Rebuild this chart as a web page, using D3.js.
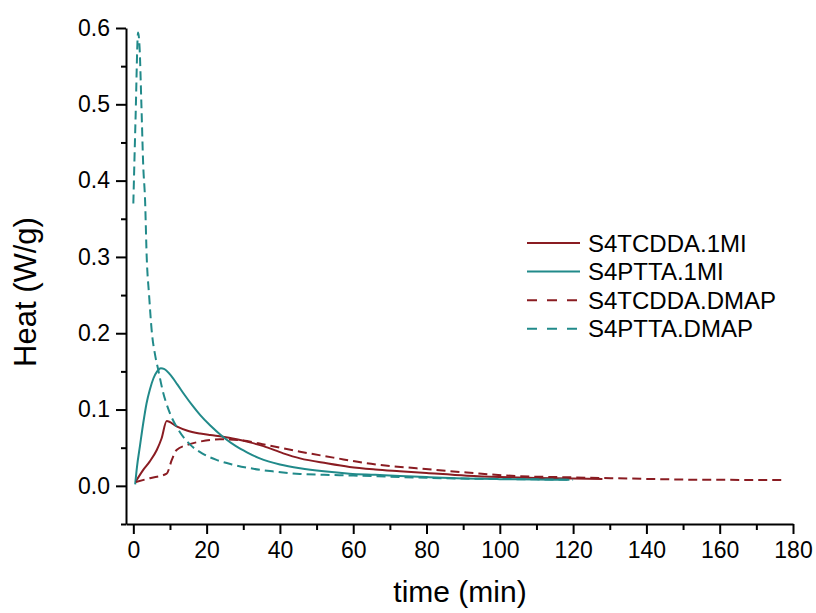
<!DOCTYPE html>
<html>
<head>
<meta charset="utf-8">
<script src="https://cdn.jsdelivr.net/npm/d3@7"></script>
<style>
  body { margin: 0; background: #fff; }
  svg { display: block; font-family: "Liberation Sans", Arial, sans-serif; }
</style>
</head>
<body>
<svg id="chart"></svg>
<script>
// series: [time (min), heat (W/g)]
const tcdda1mi = [[0.7,0.006],[2.7,0.021],[4.5,0.032],[6.4,0.047],[7.7,0.062],[9.1,0.085],[11.8,0.078],[14.6,0.0725],[18.2,0.0685],[21,0.0665],[24.5,0.0644],[28.2,0.061],[31.8,0.057],[35.5,0.052],[40.9,0.0426],[45.5,0.036],[52.8,0.0295],[59,0.0248],[66,0.0215],[72.7,0.0192],[80,0.0168],[91,0.0133],[100,0.0115],[110,0.0103],[120,0.0095],[128,0.009]];
const ptta1mi = [[0.5,0.002],[1,0.025],[1.8,0.052],[2.7,0.082],[3.6,0.108],[4.5,0.126],[5.5,0.141],[6.5,0.15],[7.5,0.154],[8.5,0.153],[10,0.146],[12,0.133],[14,0.119],[16,0.106],[18.2,0.093],[21,0.079],[24.5,0.064],[28,0.052],[31,0.044],[34.5,0.036],[40,0.028],[45.5,0.023],[52,0.019],[59,0.016],[66,0.0145],[72.7,0.013],[80,0.0115],[90,0.0097],[100,0.0088],[110,0.0083],[119,0.008]];
const tcddaDmap = [[0.7,0.005],[4.5,0.01],[9.1,0.016],[10.5,0.034],[11.8,0.047],[14.6,0.0535],[18.2,0.058],[23.6,0.061],[29,0.06],[36.4,0.0535],[45.5,0.0447],[54.6,0.037],[63.6,0.0296],[77.3,0.023],[91,0.0175],[104.5,0.0128],[118,0.0113],[136,0.0095],[154.6,0.008],[177,0.0077]];
const pttaDmap = [[0,0.37],[0.6,0.48],[1.3,0.594],[1.7,0.575],[2.2,0.5],[2.7,0.42],[3.2,0.375],[3.65,0.3],[4.3,0.25],[5,0.204],[6,0.17],[6.8,0.152],[8,0.125],[10,0.095],[12.5,0.072],[15.5,0.054],[19,0.042],[22.7,0.034],[27,0.028],[32,0.023],[38,0.019],[45.5,0.0155],[52,0.0145],[60,0.0135],[70,0.012],[80,0.0105],[90,0.0095],[100,0.009],[110,0.0085],[120,0.008]];

const seriesNames = ["S4TCDDA.1MI", "S4PTTA.1MI", "S4TCDDA.DMAP", "S4PTTA.DMAP"];
const xMajorTicks = [0, 20, 40, 60, 80, 100, 120, 140, 160, 180];
const xMinorTicks = [10, 30, 50, 70, 90, 110, 130, 150, 170];
const yMajorTicks = [0.0, 0.1, 0.2, 0.3, 0.4, 0.5, 0.6];
const yMinorTicks = [-0.05, 0.05, 0.15, 0.25, 0.35, 0.45, 0.55];

const red = "#8a1c22", teal = "#218a8a";
const series = [
  {name: seriesNames[0], data: tcdda1mi, color: red, dash: null},
  {name: seriesNames[1], data: ptta1mi, color: teal, dash: null},
  {name: seriesNames[2], data: tcddaDmap, color: red, dash: "9,5"},
  {name: seriesNames[3], data: pttaDmap, color: teal, dash: "9,5"}
];

const W = 816, H = 613;
const svg = d3.select("#chart").attr("width", W).attr("height", H);
svg.append("rect").attr("width", W).attr("height", H).attr("fill", "#fff");

const x = d3.scaleLinear().domain([-2, 180]).range([126, 793]);
const y = d3.scaleLinear().domain([-0.05, 0.6]).range([524, 28]);

const line = d3.line()
  .x(d => x(d[0]))
  .y(d => y(d[1]))
  .curve(d3.curveMonotoneX);

const plot = svg.append("g");
series.forEach(s => {
  plot.append("path")
    .datum(s.data)
    .attr("d", line)
    .attr("fill", "none")
    .attr("stroke", s.color)
    .attr("stroke-width", 2)
    .attr("stroke-dasharray", s.dash);
});

// axes
svg.append("g").attr("transform", `translate(${x(-2)},0)`)
  .call(d3.axisLeft(y).tickValues(yMajorTicks).tickFormat(d3.format(".1f"))
    .tickSize(10).tickSizeOuter(0).tickPadding(6));
svg.append("g").attr("transform", `translate(${x(-2)},0)`)
  .call(d3.axisLeft(y).tickValues(yMinorTicks).tickFormat("").tickSize(5).tickSizeOuter(0))
  .select(".domain").remove();

svg.append("g").attr("transform", `translate(0,${y(-0.05)})`)
  .call(d3.axisBottom(x).tickValues(xMajorTicks).tickFormat(d3.format("d"))
    .tickSize(10).tickSizeOuter(0).tickPadding(8));
svg.append("g").attr("transform", `translate(0,${y(-0.05)})`)
  .call(d3.axisBottom(x).tickValues(xMinorTicks).tickFormat("").tickSize(6).tickSizeOuter(0))
  .select(".domain").remove();

svg.selectAll(".domain, .tick line").attr("stroke", "#000").attr("stroke-width", 2);
svg.selectAll(".tick text").attr("fill", "#000").style("font-size", "23px")
  .style("font-family", "'Liberation Sans', Arial, sans-serif");

// axis titles
svg.append("text")
  .attr("transform", "translate(36,292) rotate(-90)")
  .attr("text-anchor", "middle")
  .style("font-size", "31px")
  .text("Heat (W/g)");

svg.append("text")
  .attr("x", 460)
  .attr("y", 602)
  .attr("text-anchor", "middle")
  .style("font-size", "30px")
  .text("time (min)");

// legend
const legend = svg.append("g").attr("transform", "translate(527,243)");
series.forEach((s, i) => {
  const row = legend.append("g").attr("transform", `translate(0,${i * 28.6})`);
  row.append("line")
    .attr("x1", 0).attr("x2", 53).attr("y1", 0).attr("y2", 0)
    .attr("stroke", s.color).attr("stroke-width", 2)
    .attr("stroke-dasharray", s.dash ? "10,10" : null);
  row.append("text")
    .attr("x", 61).attr("y", 8.5)
    .style("font-size", "24px")
    .text(s.name);
});
</script>
</body>
</html>
